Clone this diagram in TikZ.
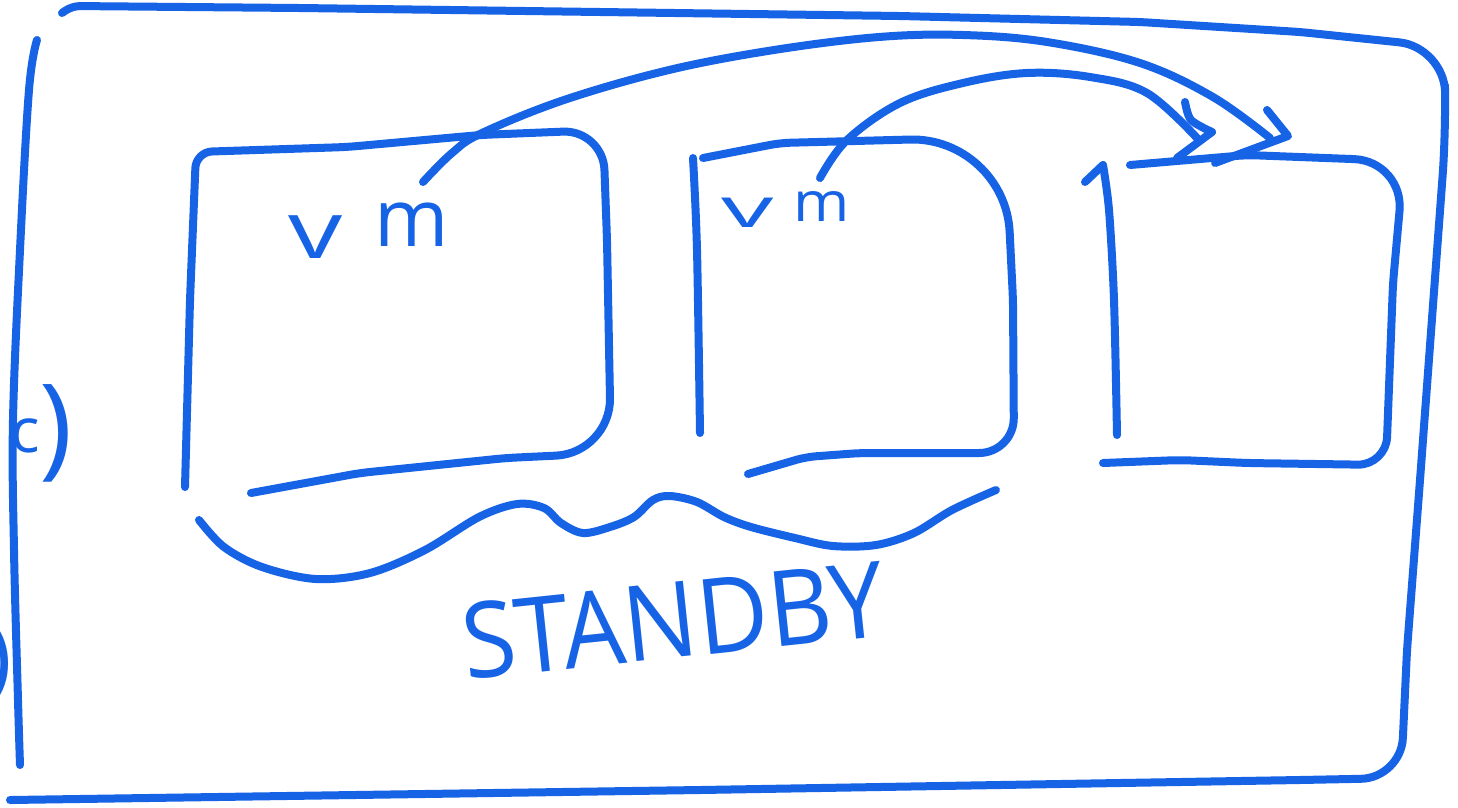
\documentclass[tikz,border=0pt]{standalone}
\usepackage{fontspec}
\usepackage{graphicx}
\newfontfamily\hand{Open Sans}
\definecolor{pen}{HTML}{1763E6}
\tikzset{
  ink/.style={draw=pen, line width=8pt, line cap=round, line join=round},
  handtext/.style={text=pen, inner sep=0pt, font=\hand},
}
\begin{document}
\begin{tikzpicture}[x=1pt, y=-1pt]
\useasboundingbox (0,0) rectangle (1458,807);
\fill[white] (0,0) rectangle (1458,807);

% outer frame
\draw[ink] (62,13) [rounded corners=8pt] -- (72,6) -- (300,8) -- (600,12) -- (900,16) -- (1140,22) -- (1300,32)
  [rounded corners=45pt] -- (1444,47) -- (1446,130) [rounded corners=10pt] -- (1420,480) -- (1407,650)
  [rounded corners=40pt] -- (1401,778) [rounded corners=10pt] -- (1300,780) -- (700,790) -- (10,800);
\draw[ink] plot[smooth, tension=0.6] coordinates {(37,40) (29,90) (20,250) (13,420) (14,550) (18,700) (20,765)};

% box 1
\draw[ink] (185,487) [rounded corners=10pt] -- (190,300) [rounded corners=16pt] -- (196,152) [rounded corners=10pt] -- (347,147) -- (480,135)
  [rounded corners=40pt] -- (603,130) [rounded corners=10pt] -- (607,240) [rounded corners=55pt] -- (611,453) [rounded corners=10pt] -- (506,458) -- (360,473) -- (251,493);

% box 2
\draw[ink] plot[smooth] coordinates {(693,158) (697,250) (700,433)};
\draw[ink] (703,158) [rounded corners=10pt] -- (780,143) [rounded corners=95pt] -- (1005,137) [rounded corners=10pt] -- (1013,300) [rounded corners=35pt] -- (1014,453) [rounded corners=10pt] -- (860,453) -- (806,457) -- (748,474);

% box 3
\draw[ink] (1085,182) -- (1103,165);
\draw[ink] plot[smooth] coordinates {(1103,165) (1109,210) (1114,300) (1117,435)};
\draw[ink] (1130,165) [rounded corners=10pt] -- (1247,155) [rounded corners=50pt] -- (1404,161) [rounded corners=10pt] -- (1393,283) [rounded corners=28pt] -- (1386,465) [rounded corners=10pt] -- (1247,463) -- (1180,460) -- (1103,463);

% brace under the two vms
\draw[ink] plot[smooth, tension=0.55] coordinates {(199,520) (224,547) (262,567) (316,579) (370,573) (425,550) (479,517) (517,504) (544,508) (561,523) (583,533) (610,527) (634,517) (653,500) (670,496) (697,502) (724,517) (751,527) (795,538) (833,546) (876,545) (914,533) (952,510) (996,490)};

% texts
\node[handtext, anchor=base west, font=\hand\fontsize{80}{80}\selectfont] (vmA) at (288,258) {\scalebox{1.35}[1]{v}\hspace{0.4em}\raisebox{12pt}{m}};
\node[handtext, anchor=base west, font=\hand\fontsize{55}{55}\selectfont] (vmB) at (721,227) {\scalebox{1.9}[1]{v}\hspace{0.36em}\raisebox{6pt}{\scalebox{1.1}[1]{m}}};
\node[handtext, anchor=base west, rotate=6, font=\hand\fontsize{105}{105}\selectfont] (standby) at (466,680) {\scalebox{0.93}[1]{STANDBY}};
\node[handtext, anchor=base west] (cpar) at (10,452) {{\fontsize{62}{62}\selectfont c}\raisebox{-12pt}{\fontsize{112}{112}\selectfont )}};
\node[handtext, anchor=east, font=\hand\fontsize{90}{90}\selectfont] (par2) at (12,663) {)};

% migration arrows
\coordinate (a1s) at (423,182);
\coordinate (a1e) at (1270,138);
\coordinate (a2s) at (820,178);
\coordinate (a2e) at (1197,138);
\draw[ink] plot[smooth, tension=0.6] coordinates {(a1s) (452,153) (482,133) (564,100) (669,70) (774,50) (879,37) (963,35) (1047,42) (1140,63) (1213,97) (a1e)};
\draw[ink] (1267,110) -- (1288,136) -- (1215,163);
\draw[ink] plot[smooth, tension=0.6] coordinates {(a2s) (847,140) (900,103) (963,83) (1027,73) (1090,77) (1147,93) (a2e)};
\draw[ink] plot[smooth] coordinates {(1185,102) (1191,120) (1212,132)} -- (1177,158);
\end{tikzpicture}
\end{document}
